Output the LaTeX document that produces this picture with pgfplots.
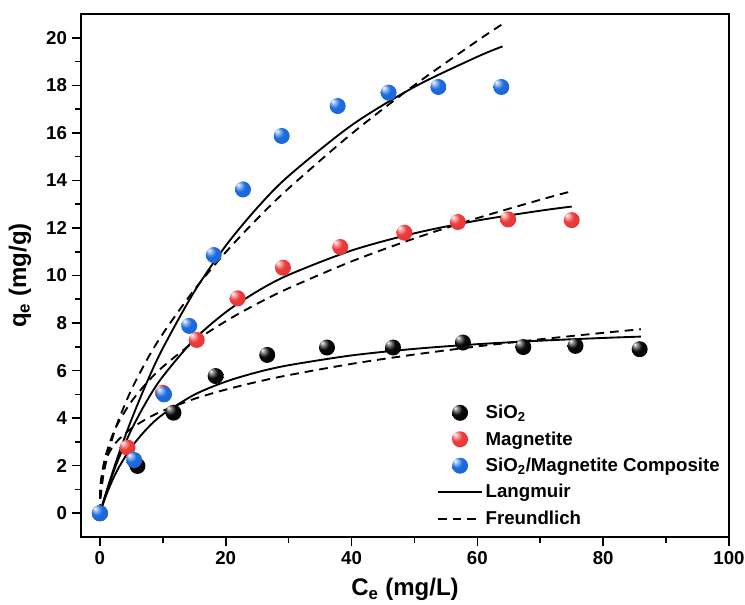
\documentclass[border=0pt]{standalone}
\usepackage{fontspec}
\setmainfont{Liberation Sans}
\usepackage{pgfplots}
\pgfplotsset{compat=1.18}
\definecolor{ballred}{HTML}{EE3B3B}
\definecolor{ballblue}{HTML}{1C6CE0}
\definecolor{ballblack}{HTML}{0A0A0A}

% shaded spheres: highlight up-left, colour kept bright to the rim
\pgfdeclareradialshading{shR}{\pgfpoint{-16bp}{16bp}}{color(0bp)=(white); color(7bp)=(ballred!45!white);
  color(17bp)=(ballred); color(40bp)=(ballred!92!black); color(50bp)=(ballred!80!black)}
\pgfdeclareradialshading{shB}{\pgfpoint{-16bp}{16bp}}{color(0bp)=(white); color(7bp)=(ballblue!45!white);
  color(17bp)=(ballblue); color(40bp)=(ballblue!92!black); color(50bp)=(ballblue!80!black)}
\pgfdeclareradialshading{shK}{\pgfpoint{-16bp}{16bp}}{color(0bp)=(white); color(7bp)=(black!45);
  color(17bp)=(ballblack); color(50bp)=(black)}
\pgfdeclareplotmark{ballR}{\pgfpathcircle{\pgfpointorigin}{\pgfplotmarksize}\pgfshadepath{shR}{0}\pgfusepath{}}
\pgfdeclareplotmark{ballB}{\pgfpathcircle{\pgfpointorigin}{\pgfplotmarksize}\pgfshadepath{shB}{0}\pgfusepath{}}
\pgfdeclareplotmark{ballK}{\pgfpathcircle{\pgfpointorigin}{\pgfplotmarksize}\pgfshadepath{shK}{0}\pgfusepath{}}

\pgfplotsset{
  markleg/.style={legend image code/.code={\draw[##1] plot coordinates {(16.5pt,0pt)};}},
  lineleg/.style={legend image code/.code={\draw[##1] (0pt,0pt) -- (33pt,0pt);}},
  lang/.style={no marks, black, line width=1.4pt, smooth},
  freu/.style={no marks, black, line width=1.4pt, smooth, dash pattern=on 6.5pt off 4.5pt},
}

\begin{document}
\begin{tikzpicture}
\begin{axis}[
    scale only axis,
    width=486pt, height=392.25pt,
    xmin=-3, xmax=100, ymin=-1, ymax=21,
    xtick={0,20,...,100}, ytick={0,2,...,20},
    minor x tick num=1, minor y tick num=1,
    xtick pos=left, ytick pos=left,
    tick align=outside,
    major tick length=7pt, minor tick length=4.5pt,
    axis line style={line width=1.5pt},
    every tick/.style={line width=1.2pt, black},
    /pgf/number format/assume math mode=true,
    tick label style={font=\bfseries\fontsize{14}{16}\selectfont},
    xlabel={C\textsubscript{e} (mg/L)},
    ylabel={q\textsubscript{e} (mg/g)},
    label style={font=\bfseries\fontsize{18}{21}\selectfont},
    xlabel style={at={(axis description cs:0.5,-0.101)}, anchor=center},
    ylabel style={at={(axis description cs:-0.094,0.5)}, anchor=center},
    legend style={at={(0.543,0.263)}, anchor=north west, draw=none, fill=none,
        font=\bfseries\fontsize{14}{17}\selectfont, row sep=4.2pt,
        cells={anchor=west}},
    legend cell align=left,
]
% data points
\addplot[only marks, mark=ballK, mark size=6pt, markleg]
    coordinates {(0,0) (5.98,1.99) (11.7,4.23) (18.4,5.77) (26.6,6.66) (36.1,6.97)
    (46.6,6.97) (57.7,7.18) (67.3,6.99) (75.6,7.04) (85.8,6.90)};
\addlegendentry{SiO\textsubscript{2}}
\addplot[only marks, mark=ballR, mark size=6pt, markleg]
    coordinates {(0,0) (4.4,2.76) (10.0,5.07) (15.4,7.29) (21.9,9.04) (29.1,10.33)
    (38.2,11.2) (48.4,11.8) (56.9,12.25) (64.9,12.36) (75.0,12.33)};
\addlegendentry{Magnetite}
\addplot[only marks, mark=ballB, mark size=6pt, markleg]
    coordinates {(0,0) (5.45,2.24) (10.2,5.0) (14.2,7.88) (18.1,10.86) (22.75,13.62)
    (28.9,15.87) (37.8,17.13) (45.9,17.69) (53.8,17.93) (63.8,17.93)};
\addlegendentry{SiO\textsubscript{2}/Magnetite Composite}

% fits
\addplot[lang, lineleg]
    coordinates {(0,0) (1,0.757) (2,1.387) (3,1.920) (5,2.772) (7.5,3.562) (10,4.155)
    (15,4.984) (20,5.535) (25,5.930) (30,6.225) (40,6.638) (50,6.914) (60,7.111)
    (70,7.258) (80,7.373) (86,7.430)};
\addlegendentry{Langmuir}
\addplot[freu, lineleg]
    coordinates {(0,0) (0.02,0.79) (0.1,1.228) (0.5,1.904) (1,2.30) (2,2.778) (3,3.103)
    (5,3.565) (7.5,3.982) (10,4.306) (15,4.810) (20,5.201) (25,5.527) (30,5.809)
    (40,6.283) (50,6.676) (60,7.016) (70,7.317) (80,7.588) (86,7.74)};
\addlegendentry{Freundlich}
\addplot[lang, forget plot]
    coordinates {(0,0) (1,0.852) (2,1.617) (3,2.308) (5,3.509) (7.5,4.741) (10,5.752)
    (15,7.310) (20,8.455) (25,9.332) (30,10.025) (40,11.051) (50,11.775) (60,12.312)
    (70,12.726) (75,12.90)};
\addplot[freu, forget plot]
    coordinates {(0,0) (0.02,0.541) (0.1,1.015) (0.5,1.906) (1,2.50) (2,3.279) (3,3.843)
    (5,4.694) (7.5,5.501) (10,6.157) (15,7.216) (20,8.076) (25,8.813) (30,9.464)
    (40,10.593) (50,11.560) (60,12.414) (70,13.186) (74.5,13.51)};
\addplot[lang, forget plot]
    coordinates {(0,0) (1,0.879) (2,1.707) (3,2.489) (5,3.928) (7.5,5.527) (10,6.938)
    (15,9.319) (20,11.249) (25,12.845) (30,14.187) (40,16.318) (50,17.934) (60,19.202)
    (64,19.636)};
\addplot[freu, forget plot]
    coordinates {(0,0) (0.02,0.263) (0.1,0.627) (0.5,1.496) (1,2.176) (2,3.164) (3,3.939)
    (5,5.191) (7.5,6.462) (10,7.549) (15,9.397) (20,10.978) (25,12.384) (30,13.665)
    (40,15.960) (50,18.007) (60,19.872) (64,20.576)};
\end{axis}
\pgfresetboundingbox
\path[use as bounding box] ([shift={(-60.75pt,-50.25pt)}]current axis.south west)
    rectangle ([shift={(12pt,10.5pt)}]current axis.north east);
\end{tikzpicture}
\end{document}
